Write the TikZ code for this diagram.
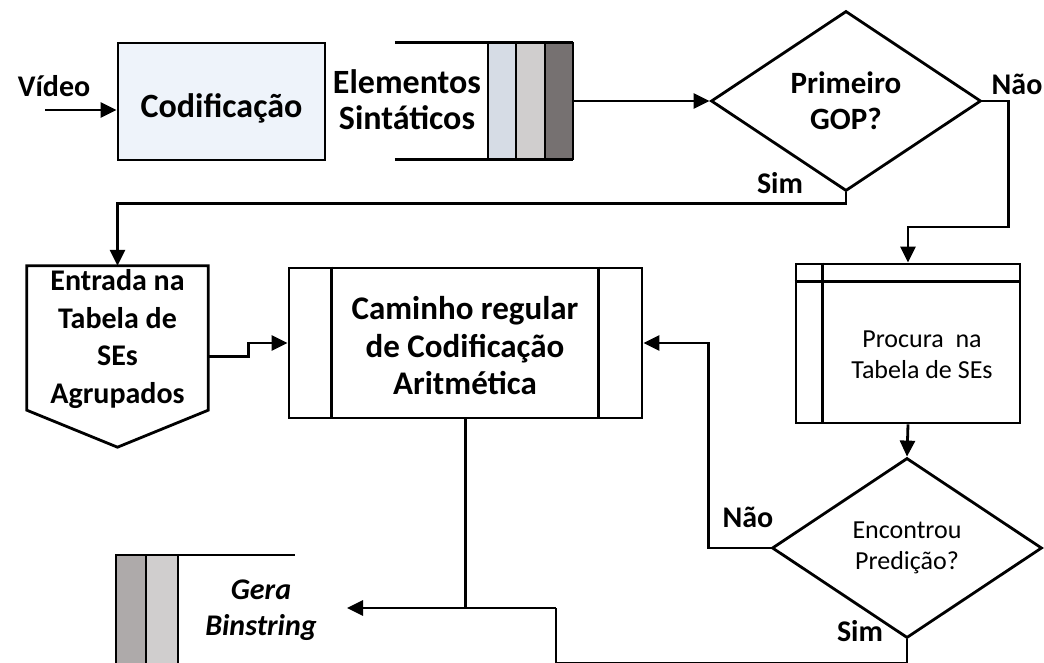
\documentclass[tikz,border=0pt]{standalone}
\usepackage{fontspec}
\setmainfont{Carlito}
\usetikzlibrary{arrows.meta,shapes.geometric,calc}
\definecolor{codfill}{HTML}{EEF3FA}
\definecolor{qblue}{HTML}{D6DCE5}
\definecolor{qgrey}{HTML}{D0CECE}
\definecolor{qdark}{HTML}{767171}
\definecolor{qmid}{HTML}{AEAAAA}
\begin{document}
\begin{tikzpicture}[x=1pt,y=-1pt,
  lw/.style={line width=2.8pt},
  box/.style={draw,lw,rectangle,inner sep=0pt},
  dec/.style={draw,lw,diamond,aspect=1.5,inner sep=0pt,
    minimum width=270pt,minimum height=180pt,align=center},
  conn/.style={lw},
  arr/.style={lw,-{Triangle[length=16pt,width=15pt]}},
  ghost/.style={inner sep=0pt},
  t30/.style={font=\fontsize{30pt}{37.5pt}\selectfont\bfseries,align=center,inner sep=0pt},
  t33/.style={font=\fontsize{33pt}{37.5pt}\selectfont\bfseries,align=center,inner sep=0pt},
  t34/.style={font=\fontsize{34pt}{36pt}\selectfont\bfseries,align=center,inner sep=0pt},
  t26/.style={font=\fontsize{26pt}{31pt}\selectfont,align=center,inner sep=0pt},
  tit/.style={font=\fontsize{30pt}{36pt}\selectfont\bfseries\itshape,align=center,inner sep=0pt},
]
\useasboundingbox (0,0) rectangle (1044,663);
\clip (0,0) rectangle (1044,663);

% --- input and encoder
\coordinate (vin) at (45,110);
\node[t30,anchor=base] (vlab) at (54,97) {Vídeo};
\node[box,fill=codfill,minimum width=207pt,minimum height=117pt] (cod) at (221.5,101.5) {};
\node[t34] (codt) at (221.5,108) {Codificação};
\draw[arr] (vin) -- (vin -| cod.west);

% --- syntax element queue
\node[ghost,minimum width=178pt,minimum height=116pt] (q) at (484,101) {};
\draw[lw] (q.north west) -- (q.north east);
\draw[lw] (q.south west) -- (q.south east);
\draw[lw,fill=qblue] (488,43) rectangle (516,159);
\draw[lw,fill=qgrey] (516,43) rectangle (545,159);
\draw[lw,fill=qdark] (545,43) rectangle (573,159);
\node[t34] (elem) at (407,100) {Elementos\\Sintáticos};

% --- first decision
\node[dec,font=\fontsize{31pt}{36pt}\selectfont\bfseries] (d1) at (846,101) {Primeiro\\GOP?};
\draw[arr] (q.east) -- (d1.west);
\node[t30,anchor=base] (nao1) at (1017,95) {Não};
\node[t30,anchor=base] (sim1) at (780,194) {Sim};

% --- grouped table entry (pentagon)
\node[ghost,minimum width=181pt,minimum height=181pt] (ent) at (117.5,356.5) {};
\draw[lw,line join=miter] (ent.north west) -- (ent.north east)
  -- ($(ent.south east)+(0,-37)$) -- (ent.south) -- ($(ent.south west)+(0,-37)$) -- cycle;
\node[t30] (entt) at (117.5,339) {Entrada na\\Tabela de\\SEs\\Agrupados};

% --- regular arithmetic coding path
\node[box,minimum width=353pt,minimum height=150pt] (cam) at (465.5,343) {};
\draw[lw] ([xshift=44pt]cam.north west) -- ([xshift=44pt]cam.south west);
\draw[lw] ([xshift=-45pt]cam.north east) -- ([xshift=-45pt]cam.south east);
\node[t33] (camt) at (465,346) {Caminho regular\\de Codificação\\Aritmética};

% --- table lookup
\node[box,minimum width=224pt,minimum height=159pt] (proc) at (908,343.5) {};
\draw[lw] ([yshift=-19pt]proc.north west) -- ([yshift=-19pt]proc.north east);
\draw[lw] ([xshift=28pt]proc.north west) -- ([xshift=28pt]proc.south west);
\node[t26] (proct) at (922,355) {Procura\ \ na\\Tabela de SEs};

% --- second decision
\node[dec,font=\fontsize{26pt}{31pt}\selectfont] (d2) at (907,548) {Encontrou\\Predição?};
\node[t30,anchor=base] (nao2) at (748,527) {Não};
\node[t30,anchor=base] (sim2) at (860,641) {Sim};

% --- binstring output queue
\draw[lw] (117,555) -- (295,555);
\draw[lw,fill=qmid] (116,555) rectangle (146,690);
\draw[lw,fill=qgrey] (146,555) rectangle (178,690);
\node[tit] (gb) at (261,610) {Gera\\Binstring};
\coordinate (gbin) at (347,608);
\coordinate (j) at (556,608);

% --- connectors
\draw[arr] (d1.south) -- ++(0,11) -| (ent.north);
\draw[arr] (d1.east) -- ++(26,0) -- ++(0,126) -| (proc.north);
\draw[arr] (ent.east) -- ++(40,0) |- (cam.west);
\draw[arr] (proc.south) -- (d2.north);
\draw[arr] (d2.west) -- ++(-62,0) |- (cam.east);
\draw[conn] (d2.south) -- ++(0,24) -| (j);
\draw[conn] (cam.south) -- (cam.south |- j);
\draw[arr] (j) -- (gbin);
\end{tikzpicture}
\end{document}
